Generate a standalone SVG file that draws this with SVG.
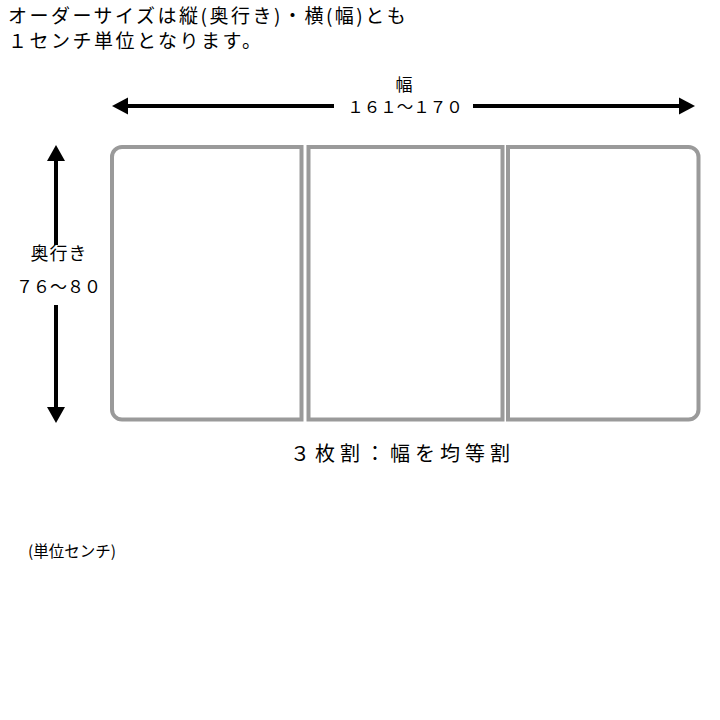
<svg xmlns="http://www.w3.org/2000/svg" width="720" height="720" viewBox="0 0 720 720">
<style>
.t{font-family:"Noto Sans CJK JP","Noto Sans",sans-serif;fill:#000}
.panel{fill:#fff;stroke:#9a9a9a;stroke-width:4}
.dim{stroke:#000;stroke-width:4;fill:none}
.head{fill:#000}
</style>
<rect width="720" height="720" fill="#fff"/>
<g id="title">
<text class="t" x="8" y="23" font-size="19" letter-spacing="2.5">オーダーサイズは縦(奥行き)・横(幅)とも</text>
<text class="t" x="8" y="48" font-size="19" letter-spacing="2.5">１センチ単位となります。</text>
</g>
<g id="panel1"><path class="panel" d="M301.5,147 H122 A10,10 0 0 0 112,157 V409.5 A10,10 0 0 0 122,419.5 H301.5 Z"/></g>
<g id="panel2"><rect class="panel" x="308.5" y="147" width="194" height="272.5"/></g>
<g id="panel3"><path class="panel" d="M508,147 H688.5 A10,10 0 0 1 698.5,157 V409.5 A10,10 0 0 1 688.5,419.5 H508 Z"/></g>
<g id="connectors">
<line class="dim" x1="126" y1="106" x2="334" y2="106"/>
<polygon class="head" points="112,106 128,97.5 128,114.5"/>
<line class="dim" x1="473" y1="106" x2="682" y2="106"/>
<polygon class="head" points="695,106 679,97.5 679,114.5"/>
<line class="dim" x1="56" y1="159" x2="56" y2="245"/>
<polygon class="head" points="56,145 47,161 65,161"/>
<line class="dim" x1="56" y1="305" x2="56" y2="410"/>
<polygon class="head" points="56,423 47,407 65,407"/>
</g>
<g id="width-label">
<text class="t" x="404" y="91" font-size="17" text-anchor="middle">幅</text>
<text class="t" x="405" y="113" font-size="16.5" text-anchor="middle">１６１～１７０</text>
</g>
<g id="depth-label">
<text class="t" x="59" y="260" font-size="18" text-anchor="middle" letter-spacing="1">奥行き</text>
<text class="t" x="58.5" y="293" font-size="17" text-anchor="middle">７６～８０</text>
</g>
<g id="split-label">
<text class="t" x="290" y="461" font-size="20" letter-spacing="5">３枚割：幅を均等割</text>
</g>
<g id="unit-label">
<text class="t" x="28" y="557" font-size="15.5">(単位センチ)</text>
</g>
</svg>
